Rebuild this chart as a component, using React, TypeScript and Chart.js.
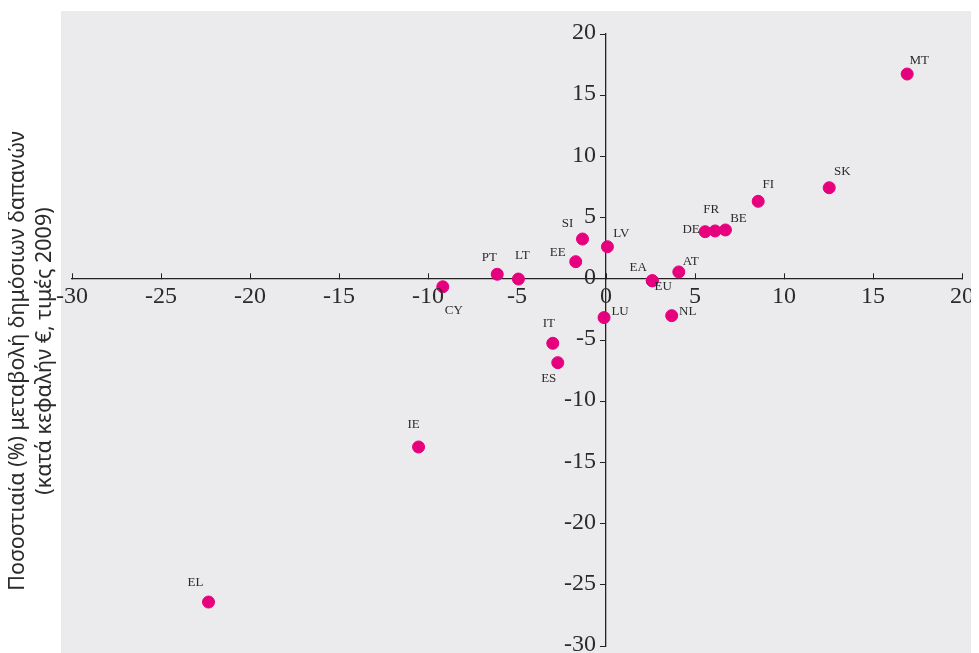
import React, { useEffect, useRef } from "react";
import { Chart, registerables } from "chart.js";

Chart.register(...registerables);

const countries = ["MT", "SK", "FI", "BE", "FR", "DE", "AT", "EA", "EU", "NL", "LU", "LV", "SI", "EE", "LT", "PT", "CY", "IT", "ES", "IE", "EL"];
const xValues = [16.92, 12.54, 8.55, 6.71, 6.13, 5.57, 4.09, 2.6, 2.6, 3.69, -0.11, 0.08, -1.32, -1.7, -4.92, -6.11, -9.17, -2.99, -2.71, -10.53, -22.33];
const yValues = [16.73, 7.44, 6.33, 3.99, 3.91, 3.85, 0.56, -0.16, -0.16, -3.01, -3.17, 2.62, 3.25, 1.4, -0.02, 0.37, -0.65, -5.27, -6.85, -13.74, -26.41];
const axisTicks = [-30, -25, -20, -15, -10, -5, 0, 5, 10, 15, 20];
const yTitleLines = ["Ποσοστιαία (%) μεταβολή δημόσιων δαπανών", "(κατά κεφαλήν €, τιμές 2009)"];

// label placement (text centre relative to the point, px)
const labelOffsets: Record<string, [number, number]> = {
  MT: [12, -13], SK: [13, -16], FI: [10, -17], BE: [13, -11], FR: [-4, -21], DE: [-14, -2],
  AT: [12, -10], EA: [-14, -13], EU: [11, 6], NL: [16, -4], LU: [16, -6], LV: [14, -13],
  SI: [-15, -15], EE: [-18, -9], LT: [4, -23], PT: [-8, -17], CY: [11, 24], IT: [-4, -20],
  ES: [-9, 16], IE: [-5, -22], EL: [-13, -19],
};

const SERIF = "'Liberation Serif', 'DejaVu Serif', serif";
const SANS = "'Noto Sans', 'Open Sans', sans-serif";
const MAGENTA = "#e6007e";
const TEXT = "#2b2b2b";

const bgPlugin = {
  id: "greyBg",
  beforeDraw(chart: any) {
    const ctx = chart.ctx;
    ctx.save();
    ctx.fillStyle = "#ebebed";
    ctx.fillRect(53, 3, chart.width - 53, chart.height - 3);
    ctx.restore();
  },
};

const tickLabelPlugin = {
  id: "tickLabels",
  afterDraw(chart: any) {
    const ctx = chart.ctx;
    const xs = chart.scales.x;
    const ys = chart.scales.y;
    const x0 = xs.getPixelForValue(0);
    const y0 = ys.getPixelForValue(0);
    ctx.save();
    ctx.font = `24px ${SERIF}`;
    ctx.fillStyle = TEXT;
    ctx.textBaseline = "middle";
    ctx.textAlign = "center";
    axisTicks.forEach((v) => {
      ctx.fillText(String(v), xs.getPixelForValue(v), y0 + 18);
    });
    ctx.textAlign = "right";
    axisTicks.forEach((v) => {
      ctx.fillText(String(v), x0 - 10, ys.getPixelForValue(v) - 1);
    });
    ctx.restore();
  },
};

const labelPlugin = {
  id: "pointLabels",
  afterDatasetsDraw(chart: any) {
    const ctx = chart.ctx;
    const meta = chart.getDatasetMeta(0);
    ctx.save();
    ctx.font = `13px ${SERIF}`;
    ctx.fillStyle = TEXT;
    ctx.textAlign = "center";
    ctx.textBaseline = "middle";
    meta.data.forEach((el: any, i: number) => {
      const name = countries[i];
      const off = labelOffsets[name] || [0, -15];
      ctx.fillText(name, el.x + off[0], el.y + off[1]);
    });
    ctx.restore();
  },
};

const titlePlugin = {
  id: "yTitle",
  afterDraw(chart: any) {
    const ctx = chart.ctx;
    ctx.save();
    ctx.font = `21.5px ${SANS}`;
    ctx.fillStyle = TEXT;
    ctx.textAlign = "center";
    ctx.textBaseline = "middle";
    ctx.save();
    ctx.translate(10, 353);
    ctx.rotate(-Math.PI / 2);
    ctx.fillText(yTitleLines[0], 0, 0);
    ctx.restore();
    ctx.translate(37, 343);
    ctx.rotate(-Math.PI / 2);
    ctx.fillText(yTitleLines[1], 0, 0);
    ctx.restore();
  },
};

export default function App() {
  const ref = useRef<HTMLCanvasElement | null>(null);
  useEffect(() => {
    if (!ref.current) return;
    const chart = new Chart(ref.current, {
      type: "scatter",
      data: {
        datasets: [
          {
            data: xValues.map((x, i) => ({ x, y: yValues[i] })),
            backgroundColor: MAGENTA,
            borderColor: MAGENTA,
            pointRadius: 6,
            pointHoverRadius: 6,
          },
        ],
      },
      options: {
        responsive: false,
        animation: false,
        layout: { padding: { left: 64, right: 17, top: 26, bottom: 7 } },
        plugins: { legend: { display: false }, tooltip: { enabled: false } },
        scales: {
          x: {
            type: "linear",
            min: -30,
            max: 20,
            position: { y: 0 } as any,
            afterBuildTicks: (s: any) => { s.ticks = axisTicks.map((v) => ({ value: v })); },
            ticks: { display: false },
            grid: { drawOnChartArea: false, drawTicks: true, tickLength: -6, color: "#222" },
            border: { color: "#222", width: 1.3 },
          },
          y: {
            type: "linear",
            min: -30,
            max: 20,
            position: { x: 0 } as any,
            afterBuildTicks: (s: any) => { s.ticks = axisTicks.map((v) => ({ value: v })); },
            ticks: { display: false },
            grid: { drawOnChartArea: false, drawTicks: true, tickLength: 5, color: "#222" },
            border: { color: "#222", width: 1.3 },
          },
        },
      },
      plugins: [bgPlugin, tickLabelPlugin, labelPlugin, titlePlugin],
    });
    return () => chart.destroy();
  }, []);
  return <canvas ref={ref} width={971} height={645} style={{ display: "block", width: 971, height: 645 }} />;
}
